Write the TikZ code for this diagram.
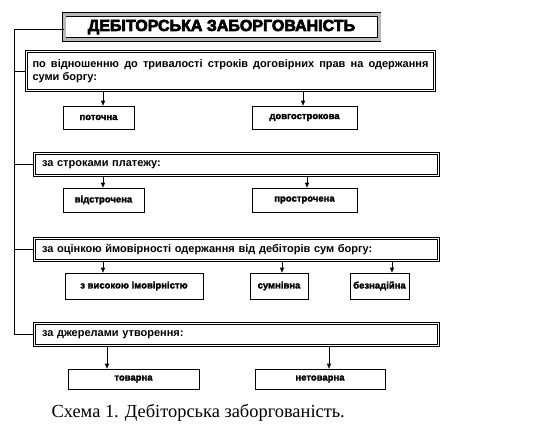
\documentclass[tikz,border=0pt]{standalone}
\usepackage{fontspec}
\setmainfont{Liberation Serif}
\setsansfont{Liberation Sans}
\newfontfamily\heavyfont{Liberation Sans Bold}[FakeBold=4]
\newfontfamily\leaffont{Liberation Sans Bold}[FakeBold=2]
\usetikzlibrary{arrows.meta}

\begin{document}
\begin{tikzpicture}[
    x=1pt, y=-1pt,
    >={Triangle[width=4pt,length=5pt]},
    head/.style={draw, line width=0.6pt, double=gray!55, double distance=3pt,
                 fill=white, font=\heavyfont\fontsize{16}{18}\selectfont,
                 minimum width=315pt, minimum height=25pt, inner sep=0pt},
    group/.style={draw, line width=0.9pt, double=white, double distance=1.2pt,
                  font=\sffamily\bfseries\fontsize{11}{13.5}\selectfont,
                  text width=#1, align=left, inner xsep=7.5pt, inner ysep=3pt,
                  minimum height=22pt},
    group/.default=389pt,
    leaf/.style={draw, line width=0.6pt, minimum width=#1, minimum height=23pt,
                 font=\leaffont\fontsize{9.5}{11}\selectfont, inner sep=0pt},
    arr/.style={->, line width=0.6pt},
    link/.style={line width=0.6pt},
  ]
  \useasboundingbox (0,0) rectangle (555,440);

  % Title
  \node[head] (top) at (221.5,27) {ДЕБІТОРСЬКА ЗАБОРГОВАНІСТЬ};

  % Groups
  \node[group=396pt, align=justify, inner xsep=6pt, minimum height=39pt] (g1) at (230.5,71)
    {по відношенню до тривалості строків договірних прав на одержання суми боргу:};
  \node[group] (g2) at (236.5,164.5) {за строками платежу:};
  \node[group] (g3) at (236.5,249.5) {за оцінкою ймовірності одержання від дебіторів сум боргу:};
  \node[group] (g4) at (236.5,334.5) {за джерелами утворення:};

  % Leaves
  \node[leaf=71pt] (cur) at (98.5,117.5) {поточна};
  \node[leaf=105pt] (long) at (304.5,117.5) {довгострокова};
  \node[leaf=81pt, minimum height=24pt] (defer) at (103.5,200) {відстрочена};
  \node[leaf=105pt, minimum height=24pt] (overdue) at (304.5,200) {прострочена};
  \node[leaf=138pt, minimum height=26pt] (high) at (134,286) {з високою імовірністю};
  \node[leaf=58pt, minimum height=26pt] (doubt) at (279,286) {сумнівна};
  \node[leaf=59pt, minimum height=26pt] (bad) at (379.5,286) {безнадійна};
  \node[leaf=131pt, minimum height=20pt] (goods) at (133.5,379) {товарна};
  \node[leaf=130pt, minimum height=20pt] (nongoods) at (320,379) {нетоварна};

  % Spine
  \coordinate (spine) at (14,29);
  \draw[link] (spine -| top.west) -- (spine) |- (g4.west);
  \draw[link] (spine |- g1.west) -- (g1.west);
  \draw[link] (spine |- g2.west) -- (g2.west);
  \draw[link] (spine |- g3.west) -- (g3.west);

  % Arrows
  \draw[arr] (g1.south -| 103,0) -- (cur.north -| 103,0);
  \draw[arr] (g1.south -| 303,0) -- (long.north -| 303,0);
  \draw[arr] (g2.south -| 103,0) -- (defer.north -| 103,0);
  \draw[arr] (g2.south -| 307,0) -- (overdue.north -| 307,0);
  \draw[arr] (g3.south -| 103,0) -- (high.north -| 103,0);
  \draw[arr] (g3.south -| 282,0) -- (doubt.north -| 282,0);
  \draw[arr] (g3.south -| 392,0) -- (bad.north -| 392,0);
  \draw[arr] (g4.south -| 107,0) -- (goods.north -| 107,0);
  \draw[arr] (g4.south -| 329,0) -- (nongoods.north -| 329,0);

  % Caption
  \node[anchor=base west, font=\fontsize{18.4}{21}\selectfont] (cap) at (48,417)
    {Схема 1. Дебіторська заборгованість.};
\end{tikzpicture}
\end{document}
